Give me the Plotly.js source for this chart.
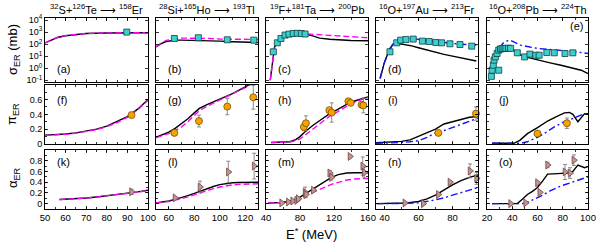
<!DOCTYPE html>
<html><head><meta charset="utf-8">
<script src="https://cdn.plot.ly/plotly-3.0.1.min.js"></script>
<style>html,body{margin:0;padding:0;background:#fff}#chart{width:598px;height:244px}</style>
</head><body><div id="chart"></div>
<script>
// ---------- column titles ----------
const reactions = [
  '<sup>32</sup>S+<sup>126</sup>Te \u27F6 <sup>158</sup>Er',
  '<sup>28</sup>Si+<sup>165</sup>Ho \u27F6 <sup>193</sup>Tl',
  '<sup>19</sup>F+<sup>181</sup>Ta \u27F6 <sup>200</sup>Pb',
  '<sup>16</sup>O+<sup>197</sup>Au \u27F6 <sup>213</sup>Fr',
  '<sup>16</sup>O+<sup>208</sup>Pb \u27F6 <sup>224</sup>Th'
];
const panelLabels = ['(a)','(b)','(c)','(d)','(e)','(f)','(g)','(h)','(i)','(j)','(k)','(l)','(m)','(n)','(o)'];

// ---------- (a) sigma S+Te ----------
const aE = [50, 53, 56, 60, 65, 70, 80, 90, 100];
const aBlack = [126, 224, 355, 501, 661, 759, 851, 891, 891];
const aDash = [126, 230, 365, 515, 675, 770, 860, 900, 900];
const aDataE = [89.7];
const aData = [1000];
// ---------- (f) pi S+Te ----------
const fE = [50, 55, 60, 65, 70, 75, 80, 85, 90, 95, 100];
const fBlack = [0.12, 0.125, 0.135, 0.15, 0.17, 0.2, 0.24, 0.3, 0.37, 0.47, 0.6];
const fDash = [0.115, 0.12, 0.13, 0.145, 0.165, 0.195, 0.235, 0.29, 0.36, 0.46, 0.59];
const fDataE = [92];
const fData = [0.39];
const fErr = [0.02];
// ---------- (k) alpha S+Te ----------
const kE = [57, 60, 65, 70, 75, 80, 85, 90, 95, 100];
const kBlack = [0.076, 0.08, 0.09, 0.105, 0.125, 0.145, 0.17, 0.195, 0.22, 0.25];
const kDash = [0.074, 0.078, 0.088, 0.103, 0.122, 0.142, 0.166, 0.19, 0.215, 0.245];
const kDataE = [92];
const kData = [0.22];
const kErr = [0.05];

// ---------- (b) sigma Si+Ho ----------
const bE = [50, 54, 58, 62, 65, 70, 80, 90, 100, 110, 120, 130];
const bBlack = [60, 112, 166, 200, 214, 214, 209, 200, 178, 158, 148, 138];
const bDash = [60, 120, 200, 263, 295, 316, 316, 302, 263, 245, 245, 245];
const bDataE = [64.4, 83.2, 105.9, 126.7];
const bData = [295, 340, 230, 215];
// ---------- (g) pi Si+Ho ----------
const gE = [50, 55, 60, 65, 70, 75, 80, 84, 90, 100, 110, 120, 125];
const gBlack = [0.09, 0.12, 0.16, 0.21, 0.27, 0.34, 0.42, 0.48, 0.53, 0.6, 0.68, 0.77, 0.82];
const gDash = [0.085, 0.11, 0.14, 0.18, 0.23, 0.3, 0.38, 0.45, 0.51, 0.59, 0.67, 0.76, 0.81];
const gDataE = [64.4, 83.7, 105.9, 126.3];
const gData = [0.15, 0.31, 0.505, 0.63];
const gErr = [0.03, 0.08, 0.11, 0.16];
// ---------- (l) alpha Si+Ho ----------
const lE = [50, 55, 60, 65, 70, 75, 80, 85, 90, 95, 100, 105, 110, 115, 120, 130];
const lBlack = [0.013, 0.03, 0.05, 0.08, 0.11, 0.15, 0.19, 0.235, 0.28, 0.32, 0.355, 0.375, 0.39, 0.395, 0.4, 0.4];
const lDash = [0.013, 0.025, 0.04, 0.065, 0.09, 0.125, 0.165, 0.205, 0.245, 0.28, 0.31, 0.335, 0.35, 0.36, 0.365, 0.37];
const lDataE = [64.9, 84.5, 106.7, 127];
const lData = [0.107, 0.31, 0.59, 0.7];
const lErr = [0.02, 0.11, 0.2, 0.24];

// ---------- (c) sigma F+Ta ----------
const cE = [45, 47, 48.6, 50, 53, 57, 62, 67, 72, 78, 85, 90, 95, 103, 115, 127, 140, 160];
const cBlack = [0.1, 2.0, 23, 56, 126, 282, 525, 661, 741, 776, 708, 603, 479, 316, 251, 214, 200, 191];
const cDash = [0.1, 2.0, 23, 56, 126, 282, 525, 661, 741, 776, 724, 660, 603, 560, 501, 437, 398, 339];
const cDataE = [48.6, 53.3, 57.6, 62.4, 67, 72, 76.8, 81.5, 86];
const cData = [23, 129, 295, 562, 676, 759, 794, 759, 692];
// ---------- (h) pi F+Ta ----------
const hE = [46, 55, 62, 68, 75, 80, 86, 95, 105, 115, 125, 139, 150, 160];
const hBlack = [0.02, 0.02, 0.025, 0.03, 0.06, 0.1, 0.165, 0.25, 0.33, 0.41, 0.47, 0.56, 0.6, 0.635];
const hDash = [0.02, 0.02, 0.022, 0.027, 0.045, 0.07, 0.12, 0.2, 0.29, 0.376, 0.44, 0.537, 0.59, 0.627];
const hDataE = [84.5, 87, 114.5, 117.3, 136.9, 139.6, 152.5, 154.5];
const hData = [0.23, 0.28, 0.456, 0.425, 0.577, 0.555, 0.53, 0.52];
const hErr = [0.05, 0.1, 0.03, 0.13, 0.03, 0.03, 0.03, 0.1];
// ---------- (m) alpha F+Ta ----------
const mE = [42.7, 50, 58, 65, 72, 80, 86, 95, 103.5, 110, 117, 125, 135, 145, 160];
const mBlack = [0.013, 0.013, 0.02, 0.035, 0.06, 0.12, 0.18, 0.27, 0.36, 0.43, 0.49, 0.54, 0.57, 0.575, 0.575];
const mDash = [0.013, 0.013, 0.02, 0.03, 0.05, 0.09, 0.15, 0.21, 0.26, 0.31, 0.36, 0.4, 0.44, 0.46, 0.47];
const mDataE = [58.4, 66.3, 71.4, 76.1, 78, 86, 87, 95.7, 115, 117, 138.8, 153.8, 155.7];
const mData = [0.013, 0.03, 0.05, 0.06, 0.09, 0.21, 0.17, 0.25, 0.57, 0.49, 0.88, 0.7, 0.58];
const mErr = [0.01, 0.01, 0.01, 0.01, 0.01, 0.1, 0.05, 0.02, 0.05, 0.05, 0.03, 0.17, 0.1];

// ---------- (d) sigma O+Au ----------
const dE = [37.4, 40, 43, 45, 48, 52, 56, 60, 65, 70, 75, 80, 85, 90, 94];
const dBlack = [0.14, 3.2, 40, 100, 112, 95, 71, 50, 32, 20, 14, 10, 7.1, 5.0, 4.0];
const dBlue = [0.14, 3.2, 32, 100, 200, 282, 295, 251, 200, 158, 132, 112, 100, 89, 83];
const dDataE = [43.2, 47.2, 49.5, 52.6, 56.9, 62.3, 66.3, 70.2, 73.6, 78.5, 84.4, 91.3];
const dData = [23, 129, 214, 245, 263, 178, 166, 138, 129, 107, 93, 68];
// ---------- (i) pi O+Au ----------
const iE = [35, 40, 45, 50, 55, 60, 65, 70, 75, 80, 85, 90, 95];
const iBlack = [0.017, 0.02, 0.025, 0.035, 0.055, 0.1, 0.15, 0.2, 0.27, 0.3, 0.34, 0.36, 0.37];
const iBlue = [0.01, 0.012, 0.015, 0.02, 0.03, 0.045, 0.09, 0.15, 0.18, 0.22, 0.26, 0.3, 0.35];
const iDataE = [71.7, 93.8];
const iData = [0.15, 0.41];
const iErr = [0.02, 0.09];
// ---------- (n) alpha O+Au ----------
const nE = [35.4, 45, 53, 60, 65, 70, 75, 80, 85, 90, 95];
const nBlack = [0, 0, 0.013, 0.04, 0.09, 0.16, 0.26, 0.35, 0.43, 0.49, 0.535];
const nBlue = [0, 0, 0.005, 0.015, 0.04, 0.07, 0.11, 0.16, 0.21, 0.26, 0.3];
const nDataE = [52, 62.8, 71.7, 78.5, 90.3, 94.2];
const nData = [0.013, 0.0, 0.17, 0.40, 0.61, 0.47];
const nErr = [0.01, 0.01, 0.02, 0.03, 0.13, 0.11];

// ---------- (e) sigma O+Pb ----------
const eE = [23.5, 25, 27, 29, 31, 33, 35, 37, 39, 42, 46.6, 52, 60, 70, 78.6, 87, 94.6, 100];
const eBlack = [0.19, 1.78, 8.7, 20, 32, 38, 42, 44, 44, 28, 12, 7.9, 4.7, 2.8, 1.78, 1.12, 0.68, 0.36];
const eBlue = [0.19, 2.0, 10, 32, 71, 126, 178, 214, 200, 141, 83, 63, 44, 36, 32, 25, 20, 16.6];
const eDataE = [23.5, 24, 25, 25.6, 26.6, 28, 29.3, 29.3, 30.7, 32, 33.5, 35, 37, 38.7, 44, 49.8, 54, 58.6, 61.3, 67.4, 73.3, 81.8, 88];
const eData = [0.21, 0.68, 1.78, 4.7, 8.7, 16.6, 32, 0.68, 40, 42, 44, 44, 46, 44, 19, 8.7, 14.8, 12, 12, 20, 19, 16.6, 19];
// ---------- (j) pi O+Pb ----------
const jE = [24, 41.3, 46, 52, 60, 68, 75, 81.3, 85.3, 88, 92, 95, 97.3, 100];
const jBlack = [0.01, 0.01, 0.05, 0.14, 0.22, 0.31, 0.37, 0.42, 0.425, 0.4, 0.3, 0.36, 0.41, 0.41];
const jBlueE = [24, 46.6, 52, 60, 67, 73.3, 80, 89.3, 97.3, 100];
const jBlue = [0.01, 0.01, 0.03, 0.09, 0.16, 0.23, 0.29, 0.36, 0.41, 0.41];
const jDataE = [60, 83.3];
const jData = [0.14, 0.28];
const jErr = [0.02, 0.07];
// ---------- (o) alpha O+Pb ----------
const oE = [24, 44, 48, 52, 56, 60, 64, 68, 76, 84, 88, 92, 97.3, 100];
const oBlack = [0, 0, 0.08, 0.17, 0.23, 0.3, 0.42, 0.55, 0.56, 0.57, 0.6, 0.72, 0.67, 0.69];
const oBlueE = [24, 48, 52, 62.6, 70, 78.6, 90, 100];
const oBlue = [0, 0, 0.025, 0.14, 0.24, 0.33, 0.42, 0.5];
const oDataE = [38.7, 50.6, 60, 61.8, 68, 81.8, 85.8, 88.8];
const oData = [0, 0.013, 0.39, 0.21, 0.72, 0.59, 0.57, 0.81];
const oErr = [0.01, 0.01, 0.02, 0.02, 0.05, 0.14, 0.1, 0.1];

// ---------- axis tick labels ----------
const xRanges = [[50,100],[50,130],[40,160],[35,95],[20,100]];
const xTickVals = [[50,60,70,80,90,100],[60,80,100,120],[40,80,120,160],[40,60,80],[20,40,60,80,100]];
const xMinorStep = [5,10,20,10,10];
const sigTickVals = [0.1, 1, 10, 100, 1000, 10000];
const sigTickText = ['10<sup>-1</sup>','10<sup>0</sup>','10<sup>1</sup>','10<sup>2</sup>','10<sup>3</sup>','10<sup>4</sup>'];
const piTickVals = [0, 0.2, 0.4, 0.6];
const alTickVals = [0, 0.2, 0.4, 0.6, 0.8];

// ---------- layout geometry ----------
const W = 598, H = 244;
const colPx = [[45,148],[156,258],[266,368],[376,478],[487,588]];
const rowPx = [[18,82.3],[84.7,144],[150,209]];

const BLACK = {color:'#000', width:1.4};
const MAG = {color:'#ff00ff', width:1.4, dash:'6px,3px'};
const BLUE = {color:'#1010ff', width:1.4, dash:'7px,3px,2px,3px'};
const SQ = {symbol:'square', size:6, color:'#3ad0d0', line:{color:'#104040', width:0.8}};
const CI = {symbol:'circle', size:7, color:'#f5a300', line:{color:'#7a5200', width:0.8}};
const TR = {symbol:'triangle-right', size:7, color:'#c99390', line:{color:'#6b4848', width:0.8}};

const traces = [];
function ax(n){ return n === 1 ? '' : String(n); }
function addLine(n, x, y, style){
  traces.push({type:'scatter', mode:'lines', x:x, y:y, xaxis:'x'+ax(n), yaxis:'y'+ax(n),
    line:style, showlegend:false, hoverinfo:'skip', cliponaxis:true});
}
function addPts(n, x, y, marker, err){
  const t = {type:'scatter', mode:'markers', x:x, y:y, xaxis:'x'+ax(n), yaxis:'y'+ax(n),
    marker:marker, showlegend:false, hoverinfo:'skip', cliponaxis:false};
  if (err) t.error_y = {type:'data', array:err, visible:true, color:'#808080', thickness:0.9, width:2};
  traces.push(t);
}

// row 1 : sigma
addLine(1, aE, aBlack, BLACK); addLine(1, aE, aDash, MAG); addPts(1, aDataE, aData, SQ);
addLine(2, bE, bBlack, BLACK); addLine(2, bE, bDash, MAG); addPts(2, bDataE, bData, SQ);
addLine(3, cE, cBlack, BLACK); addLine(3, cE, cDash, MAG); addPts(3, cDataE, cData, SQ);
addLine(4, dE, dBlack, BLACK); addLine(4, dE, dBlue, BLUE); addPts(4, dDataE, dData, SQ);
addLine(5, eE, eBlack, BLACK); addLine(5, eE, eBlue, BLUE); addPts(5, eDataE, eData, SQ);
// row 2 : pi
addLine(6, fE, fBlack, BLACK); addLine(6, fE, fDash, MAG); addPts(6, fDataE, fData, CI, fErr);
addLine(7, gE, gBlack, BLACK); addLine(7, gE, gDash, MAG); addPts(7, gDataE, gData, CI, gErr);
addLine(8, hE, hBlack, BLACK); addLine(8, hE, hDash, MAG); addPts(8, hDataE, hData, CI, hErr);
addLine(9, iE, iBlack, BLACK); addLine(9, iE, iBlue, BLUE); addPts(9, iDataE, iData, CI, iErr);
addLine(10, jE, jBlack, BLACK); addLine(10, jBlueE, jBlue, BLUE); addPts(10, jDataE, jData, CI, jErr);
// row 3 : alpha
addLine(11, kE, kBlack, BLACK); addLine(11, kE, kDash, MAG); addPts(11, kDataE, kData, TR, kErr);
addLine(12, lE, lBlack, BLACK); addLine(12, lE, lDash, MAG); addPts(12, lDataE, lData, TR, lErr);
addLine(13, mE, mBlack, BLACK); addLine(13, mE, mDash, MAG); addPts(13, mDataE, mData, TR, mErr);
addLine(14, nE, nBlack, BLACK); addLine(14, nE, nBlue, BLUE); addPts(14, nDataE, nData, TR, nErr);
addLine(15, oE, oBlack, BLACK); addLine(15, oBlueE, oBlue, BLUE); addPts(15, oDataE, oData, TR, oErr);

const FONT = 'Liberation Sans, Arial, Helvetica, sans-serif';
const layout = {
  width: W, height: H, margin:{l:0, r:0, t:0, b:0},
  paper_bgcolor:'#fff', plot_bgcolor:'#fff', showlegend:false,
  font:{family:FONT, size:9, color:'#000'},
  annotations: []
};

for (let r = 0; r < 3; r++){
  for (let c = 0; c < 5; c++){
    const n = r*5 + c + 1;
    const xd = [colPx[c][0]/W, colPx[c][1]/W];
    const yd = [1 - rowPx[r][1]/H, 1 - rowPx[r][0]/H];
    const xa = {
      domain: xd, anchor: 'y'+ax(n), range: xRanges[c],
      showline:true, linecolor:'#000', linewidth:1, mirror:'ticks',
      ticks:'inside', ticklen:3, tickcolor:'#000', tickwidth:0.8,
      tickmode:'array', tickvals:xTickVals[c],
      showticklabels: r === 2, tickfont:{size:9.5, family:FONT},
      showgrid:false, zeroline:false, fixedrange:true,
      minor:{ticks:'inside', ticklen:2, dtick:xMinorStep[c], tick0:0, tickcolor:'#000', showgrid:false}
    };
    const ya = {
      domain: yd, anchor: 'x'+ax(n),
      showline:true, linecolor:'#000', linewidth:1, mirror:'ticks',
      ticks:'inside', ticklen:3, tickcolor:'#000', tickwidth:0.8,
      showticklabels: c === 0, tickfont:{size:9, family:FONT},
      showgrid:false, zeroline:false, fixedrange:true, tickmode:'array'
    };
    if (r === 0){
      ya.type = 'log'; ya.range = [-1.17, 4.17];
      ya.tickvals = sigTickVals; ya.ticktext = sigTickText;
    } else if (r === 1){
      ya.range = [0, 0.8]; ya.tickvals = piTickVals; ya.ticktext = piTickVals.map(String);
      ya.minor = {ticks:'inside', ticklen:2, dtick:0.1, tick0:0, tickcolor:'#000'};
    } else {
      ya.range = [-0.1, 1.0]; ya.tickvals = alTickVals; ya.ticktext = alTickVals.map(String);
      ya.minor = {ticks:'inside', ticklen:2, dtick:0.1, tick0:0, tickcolor:'#000'};
    }
    layout['xaxis'+ax(n)] = xa;
    layout['yaxis'+ax(n)] = ya;

    // panel label
    let px, py, xanchor = 'left';
    if (r === 0){
      if (c === 4){ px = 0.97; py = 0.88; xanchor = 'right'; }
      else { px = 0.1; py = 0.2; }
    } else if (r === 1){ px = 0.1; py = 0.75; }
    else { px = 0.1; py = 0.8; }
    layout.annotations.push({text: panelLabels[n-1], xref:'x'+ax(n)+' domain', yref:'y'+ax(n)+' domain',
      x:px, y:py, xanchor:xanchor, yanchor:'middle', showarrow:false, font:{size:11, family:FONT}});
  }
  // column titles
}
for (let c = 0; c < 5; c++){
  layout.annotations.push({text: reactions[c], xref:'paper', yref:'paper',
    x:(colPx[c][0]+colPx[c][1])/2/W, y:1 - 9/H, xanchor:'center', yanchor:'middle',
    showarrow:false, font:{size:11, family:FONT}});
}
// y titles
const yTitles = [['\u03c3<sub>ER</sub> (mb)', 50], ['\u03c0<sub>ER</sub>', 114], ['\u03b1<sub>ER</sub>', 178]];
yTitles.forEach(t => layout.annotations.push({text:t[0], xref:'paper', yref:'paper', x:13/W, y:1 - t[1]/H,
  xanchor:'center', yanchor:'middle', textangle:-90, showarrow:false, font:{size:13, family:FONT}}));
// x title
layout.annotations.push({text:'E<sup>*</sup> (MeV)', xref:'paper', yref:'paper', x:311/W, y:1 - 234/H,
  xanchor:'center', yanchor:'middle', showarrow:false, font:{size:13, family:FONT}});

Plotly.newPlot('chart', traces, layout, {staticPlot:true, displayModeBar:false});
</script></body></html>
